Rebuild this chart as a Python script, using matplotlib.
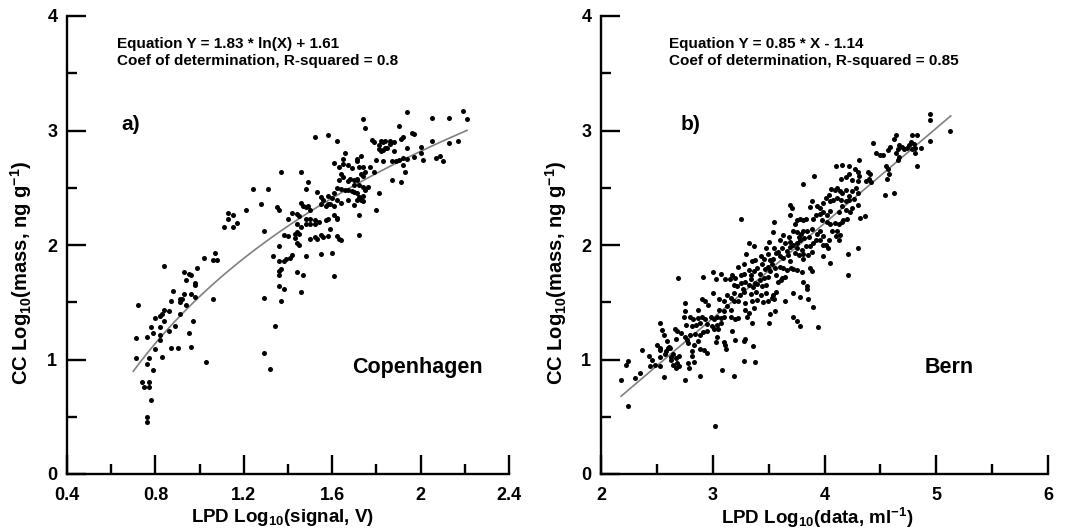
import matplotlib
matplotlib.use("Agg")
import matplotlib.pyplot as plt
import numpy as np

plt.rcParams['font.family'] = ['Liberation Sans', 'DejaVu Sans']
plt.rcParams['font.weight'] = 'bold'
plt.rcParams['mathtext.fontset'] = 'custom'
plt.rcParams['mathtext.rm'] = 'Liberation Sans:bold'
plt.rcParams['mathtext.it'] = 'Liberation Sans:bold'
plt.rcParams['mathtext.bf'] = 'Liberation Sans:bold'
plt.rcParams['mathtext.default'] = 'rm'

# ---------------- Copenhagen (panel a) ----------------
cph_x = [0.72, 0.71, 0.71, 0.76, 0.78, 0.80, 0.82, 0.79, 0.82, 0.82, 0.80, 0.77, 0.76, 0.79, 0.74, 0.77,
         0.75, 0.77, 0.78, 0.76, 0.76, 0.83, 0.83, 0.82, 0.84, 0.84, 0.86, 0.86, 0.89, 0.87, 0.88, 0.91,
         0.91, 0.92, 0.93, 0.94, 0.91, 0.87, 0.90, 0.84, 0.93, 0.95, 0.94, 0.96, 0.98, 0.98, 0.99, 0.96,
         0.98, 0.95, 0.97, 0.96, 1.02, 1.07, 1.06, 1.08, 1.06, 1.03, 1.11, 1.13, 1.13, 1.15, 1.15, 1.17,
         1.94, 2.05, 2.13, 2.19, 2.21, 1.74, 1.75, 1.90, 1.96, 1.97, 1.91, 1.92, 1.78, 1.79, 1.81, 1.82,
         1.83, 1.84, 1.86, 1.86, 1.88, 1.81, 1.82, 1.83, 1.84, 1.85, 1.88, 1.52, 1.58, 1.62, 1.94, 2.00,
         2.05, 2.17, 2.13, 1.66, 1.65, 1.71, 1.73, 1.71, 1.61, 1.63, 1.65, 1.67, 1.69, 1.72, 1.74, 1.77,
         1.79, 1.75, 1.73, 1.74, 1.71, 1.71, 1.80, 1.83, 1.87, 1.89, 1.90, 1.92, 1.94, 1.97, 2.00, 2.01,
         2.07, 2.09, 2.10, 1.92, 1.93, 1.87, 1.91, 1.37, 1.46, 1.49, 1.24, 1.31, 1.64, 1.65, 1.63, 1.67,
         1.68, 1.70, 1.70, 1.72, 1.74, 1.76, 1.75, 1.48, 1.53, 1.55, 1.58, 1.60, 1.61, 1.62, 1.64, 1.66,
         1.67, 1.69, 1.70, 1.71, 1.72, 1.71, 1.73, 1.74, 1.74, 1.70, 1.72, 1.80, 1.81, 1.21, 1.28, 1.35,
         1.36, 1.46, 1.47, 1.48, 1.50, 1.49, 1.55, 1.56, 1.58, 1.57, 1.59, 1.61, 1.62, 1.64, 1.67, 1.42,
         1.44, 1.40, 1.45, 1.48, 1.50, 1.52, 1.54, 1.57, 1.58, 1.61, 1.62, 1.62, 1.44, 1.46, 1.48, 1.50,
         1.52, 1.29, 1.38, 1.40, 1.43, 1.44, 1.45, 1.43, 1.44, 1.45, 1.50, 1.52, 1.53, 1.55, 1.56, 1.58,
         1.59, 1.62, 1.63, 1.64, 1.72, 1.36, 1.33, 1.36, 1.38, 1.39, 1.41, 1.42, 1.48, 1.55, 1.60, 1.36,
         1.37, 1.36, 1.44, 1.47, 1.61, 1.36, 1.38, 1.46, 1.37, 1.29, 1.34, 1.29, 1.32]
cph_y = [1.48, 1.19, 1.01, 1.20, 1.28, 1.36, 1.28, 1.23, 1.21, 1.17, 1.09, 1.01, 0.96, 0.91, 0.80, 0.80,
         0.76, 0.76, 0.65, 0.50, 0.45, 1.02, 1.40, 1.38, 1.34, 1.43, 1.42, 1.25, 1.29, 1.51, 1.60, 1.53,
         1.50, 1.53, 1.57, 1.48, 1.40, 1.10, 1.10, 1.82, 1.76, 1.75, 1.69, 1.74, 1.67, 1.65, 1.80, 1.57,
         1.55, 1.23, 1.34, 1.11, 1.89, 1.93, 1.87, 1.87, 1.53, 0.98, 2.16, 2.28, 2.23, 2.26, 2.16, 2.19,
         3.16, 3.11, 3.11, 3.17, 3.10, 3.10, 3.02, 3.04, 2.98, 2.97, 2.93, 2.94, 2.92, 2.90, 2.87, 2.91,
         2.90, 2.91, 2.91, 2.88, 2.90, 2.84, 2.82, 2.83, 2.85, 2.85, 2.82, 2.94, 2.96, 2.91, 2.85, 2.86,
         2.91, 2.91, 2.89, 2.80, 2.75, 2.75, 2.78, 2.73, 2.72, 2.68, 2.71, 2.70, 2.67, 2.68, 2.68, 2.68,
         2.64, 2.64, 2.62, 2.60, 2.57, 2.58, 2.74, 2.73, 2.73, 2.73, 2.74, 2.76, 2.75, 2.77, 2.80, 2.74,
         2.76, 2.78, 2.73, 2.70, 2.64, 2.57, 2.55, 2.64, 2.64, 2.55, 2.49, 2.49, 2.62, 2.59, 2.57, 2.56,
         2.58, 2.57, 2.52, 2.52, 2.51, 2.51, 2.48, 2.49, 2.46, 2.42, 2.43, 2.41, 2.45, 2.50, 2.49, 2.48,
         2.48, 2.47, 2.46, 2.45, 2.42, 2.39, 2.39, 2.38, 2.43, 2.35, 2.26, 2.31, 2.45, 2.31, 2.36, 2.33,
         2.31, 2.37, 2.34, 2.33, 2.31, 2.34, 2.36, 2.39, 2.36, 2.34, 2.36, 2.34, 2.39, 2.37, 2.39, 2.28,
         2.27, 2.23, 2.25, 2.23, 2.23, 2.22, 2.20, 2.22, 2.23, 2.26, 2.24, 2.23, 2.18, 2.16, 2.18, 2.18,
         2.18, 2.12, 2.09, 2.08, 2.10, 2.11, 2.10, 2.06, 2.02, 2.00, 2.05, 2.07, 2.05, 2.09, 2.07, 2.08,
         2.14, 2.08, 2.05, 2.04, 2.09, 1.99, 1.90, 1.86, 1.86, 1.88, 1.89, 1.91, 1.90, 1.92, 1.93, 1.77,
         1.79, 1.74, 1.76, 1.74, 1.73, 1.64, 1.62, 1.59, 1.51, 1.54, 1.29, 1.06, 0.92]

# ---------------- Bern (panel b) ----------------
bern_x = [2.69, 2.53, 2.55, 2.56, 2.59, 2.66, 2.68, 2.67, 2.50, 2.53, 2.58, 2.60, 2.62, 2.64, 2.67, 2.70,
          2.37, 2.43, 2.46, 2.48, 2.44, 2.53, 2.63, 2.64, 2.67, 2.70, 2.24, 2.22, 2.18, 2.30, 2.35, 2.56,
          2.24, 2.61, 2.53, 2.57, 2.53, 2.63, 2.68,
          3.25, 3.32, 3.37, 3.48, 3.50, 3.30, 3.35, 3.38, 3.43, 3.46, 3.49, 3.51, 3.23, 3.28, 3.25, 3.28,
          3.32, 3.34, 3.37, 3.40, 3.42, 3.44, 3.47, 3.49, 3.51, 3.00, 3.07, 3.17, 2.91, 3.03, 3.11, 3.15,
          3.20, 3.25, 3.29, 3.34, 3.38, 3.42, 3.46, 3.49, 3.19, 3.22, 3.27, 3.32, 3.36, 3.40, 3.44, 3.48,
          3.00, 3.13, 3.19, 3.24, 3.28, 3.34, 3.39, 3.43, 3.48, 2.90, 2.93, 2.96, 3.06, 3.10, 3.13, 3.16,
          3.19, 3.23, 3.29, 3.35, 3.40, 3.45, 3.49, 2.75, 2.75, 2.87, 3.06, 3.10, 3.16, 3.29, 3.32, 3.37,
          2.74, 2.80, 2.82, 2.87, 2.90, 2.93, 2.98, 3.01, 3.04, 3.07, 3.10, 3.16, 3.20, 3.23, 3.31, 3.35,
          3.50, 2.76, 2.81, 2.85, 2.89, 2.95, 2.99, 3.04, 3.07, 2.72, 2.75, 2.77, 2.80, 2.84, 2.89, 2.91,
          2.95, 3.01, 3.05, 3.17, 3.04, 3.03, 3.10, 3.11, 3.12, 3.20, 3.28, 3.29, 3.36, 2.78, 2.83, 2.87,
          2.81, 2.81, 2.89, 2.92, 2.95, 2.78, 2.79, 2.83, 2.75, 2.89, 3.08, 3.19, 3.28, 3.38, 3.02,
          4.31, 4.10, 4.16, 4.22, 4.27, 4.30, 4.15, 4.19, 4.22, 4.25, 4.30, 4.31, 3.91, 3.81, 4.06, 4.09,
          4.11, 4.14, 4.16, 4.19, 4.22, 4.25, 4.28, 4.30, 4.01, 4.04, 3.99, 4.05, 4.08, 4.11, 4.15, 4.19,
          4.22, 4.26, 3.89, 3.87, 3.69, 3.71, 3.93, 3.96, 3.99, 4.02, 4.05, 4.13, 4.16, 4.19, 4.23, 4.25,
          4.30, 3.55, 3.69, 3.74, 3.75, 3.78, 3.81, 3.83, 3.90, 3.92, 3.96, 3.98, 4.02, 4.05, 4.09, 4.13,
          4.16, 4.17, 4.20, 3.63, 3.68, 3.72, 3.75, 3.77, 3.79, 3.81, 3.84, 3.89, 3.93, 3.96, 3.99, 3.54,
          3.60, 3.65, 3.69, 3.72, 3.75, 3.78, 3.82, 3.86, 4.07, 4.11, 4.14, 4.10, 3.55, 3.58, 3.62, 3.66,
          3.69, 3.75, 3.80, 3.83, 3.87, 3.90, 3.92, 3.96, 3.99, 4.04, 4.01, 4.03, 4.13, 3.54, 3.57, 3.60,
          3.63, 3.67, 3.69, 3.74, 3.77, 3.81, 3.81, 3.85, 3.89, 3.99, 4.05, 4.21, 4.30, 3.53, 3.56, 3.60,
          3.63, 3.66, 3.70, 3.72, 3.75, 3.87, 3.89, 3.80, 3.57, 3.62, 3.65, 3.58, 3.61, 4.21, 3.81, 3.84,
          3.84, 3.54, 3.57, 3.53, 3.55, 3.72, 3.78, 3.85, 3.65, 3.90, 3.51, 3.56, 3.72, 3.75, 3.78, 3.94,
          4.94, 4.94, 5.12, 4.64, 4.62, 4.78, 4.83, 4.94, 4.43, 4.59, 4.57, 4.67, 4.69, 4.71, 4.66, 4.74,
          4.76, 4.77, 4.78, 4.80, 4.81, 4.86, 4.46, 4.50, 4.52, 4.64, 4.67, 4.66, 4.81, 4.55, 4.57, 4.83,
          4.39, 4.41, 4.37, 4.40, 4.42, 4.58, 4.56, 4.54, 4.62, 4.32, 4.36]
bern_y = [1.71, 1.32, 1.26, 1.21, 1.16, 1.27, 1.25, 1.18, 1.13, 1.08, 1.07, 1.10, 1.10, 1.05, 1.01, 1.03,
          1.08, 1.03, 1.00, 0.95, 0.94, 0.94, 1.00, 0.95, 0.93, 0.94, 0.99, 0.95, 0.82, 0.84, 0.88, 0.85,
          0.59, 1.11, 1.10, 1.05, 1.02, 1.02, 0.97,
          2.23, 2.02, 1.99, 1.97, 2.03, 1.92, 1.86, 1.87, 1.90, 1.88, 1.92, 1.87, 1.81, 1.83, 1.74, 1.75,
          1.78, 1.74, 1.77, 1.80, 1.75, 1.83, 1.79, 1.81, 1.77, 1.76, 1.75, 1.74, 1.72, 1.70, 1.70, 1.70,
          1.71, 1.67, 1.68, 1.70, 1.67, 1.69, 1.71, 1.72, 1.65, 1.64, 1.62, 1.65, 1.63, 1.66, 1.64, 1.65,
          1.58, 1.56, 1.58, 1.56, 1.59, 1.57, 1.59, 1.56, 1.58, 1.53, 1.51, 1.48, 1.53, 1.51, 1.47, 1.54,
          1.51, 1.51, 1.49, 1.51, 1.52, 1.50, 1.51, 1.49, 1.42, 1.43, 1.43, 1.42, 1.43, 1.43, 1.41, 1.45,
          1.37, 1.37, 1.35, 1.36, 1.37, 1.35, 1.37, 1.35, 1.37, 1.36, 1.37, 1.37, 1.35, 1.36, 1.37, 1.32,
          1.32, 1.30, 1.29, 1.30, 1.32, 1.31, 1.29, 1.30, 1.32, 1.23, 1.20, 1.17, 1.21, 1.22, 1.21, 1.24,
          1.25, 1.27, 1.27, 1.25, 1.20, 1.15, 1.15, 1.13, 1.09, 1.17, 1.16, 1.18, 1.12, 1.14, 1.13, 1.16,
          1.07, 1.03, 1.09, 1.08, 1.06, 0.97, 0.93, 0.98, 0.82, 0.86, 0.91, 0.86, 0.99, 0.98, 0.42,
          2.74, 2.69, 2.70, 2.69, 2.66, 2.64, 2.58, 2.59, 2.62, 2.57, 2.56, 2.60, 2.60, 2.53, 2.49, 2.48,
          2.50, 2.47, 2.45, 2.48, 2.43, 2.47, 2.50, 2.45, 2.41, 2.44, 2.37, 2.38, 2.39, 2.41, 2.39, 2.38,
          2.39, 2.40, 2.38, 2.33, 2.35, 2.32, 2.34, 2.32, 2.29, 2.26, 2.30, 2.29, 2.34, 2.31, 2.29, 2.32,
          2.35, 2.20, 2.26, 2.18, 2.22, 2.23, 2.22, 2.23, 2.23, 2.26, 2.27, 2.22, 2.20, 2.18, 2.19, 2.18,
          2.20, 2.22, 2.23, 2.09, 2.07, 2.12, 2.11, 2.07, 2.10, 2.12, 2.12, 2.14, 2.10, 2.12, 2.08, 2.11,
          2.04, 2.02, 2.03, 2.00, 2.02, 2.04, 2.06, 2.07, 2.12, 2.12, 2.09, 2.08, 1.97, 1.94, 1.97, 1.95,
          1.98, 1.97, 1.96, 1.99, 1.99, 2.02, 2.04, 2.04, 2.00, 2.04, 2.00, 1.97, 2.04, 1.88, 1.93, 1.90,
          1.89, 1.91, 1.86, 1.93, 1.91, 1.92, 1.88, 1.91, 1.94, 1.90, 1.84, 1.92, 1.97, 1.83, 1.80, 1.81,
          1.80, 1.78, 1.80, 1.79, 1.78, 1.80, 1.77, 1.76, 1.74, 1.71, 1.72, 1.68, 1.69, 1.74, 1.68, 1.64,
          1.62, 1.56, 1.59, 1.54, 1.53, 1.58, 1.55, 1.53, 1.51, 1.46, 1.40, 1.42, 1.37, 1.34, 1.29, 1.28,
          3.14, 3.09, 3.00, 2.96, 2.93, 2.96, 2.96, 2.91, 2.89, 2.86, 2.83, 2.87, 2.86, 2.84, 2.84, 2.85,
          2.87, 2.90, 2.84, 2.88, 2.85, 2.85, 2.80, 2.79, 2.79, 2.80, 2.77, 2.74, 2.80, 2.69, 2.66, 2.69,
          2.64, 2.62, 2.56, 2.58, 2.55, 2.62, 2.58, 2.44, 2.45, 2.24, 2.25]

# fitted curves as drawn in the picture
cph_fit_a, cph_fit_b, cph_fit_range = 1.83, 1.55, (0.70, 2.21)
bern_fit_a, bern_fit_b, bern_fit_range = 0.83, -1.13, (2.18, 5.13)

cph_eq = ["Equation Y = 1.83 * ln(X) + 1.61", "Coef of determination, R-squared = 0.8"]
bern_eq = ["Equation Y = 0.85 * X - 1.14", "Coef of determination, R-squared = 0.85"]

xlab_a = "LPD Log$_{10}$(signal, V)"
xlab_b = "LPD Log$_{10}$(data, ml$^{-1}$)"
ylab = "CC Log$_{10}$(mass, ng g$^{-1}$)"

a_xticks = [0.4, 0.8, 1.2, 1.6, 2.0, 2.4]
a_xticklabels = ["0.4", "0.8", "1.2", "1.6", "2", "2.4"]
b_xticks = [2, 3, 4, 5, 6]
yticks = [0, 1, 2, 3, 4]

W, H = 1065, 532
fig = plt.figure(figsize=(W / 100, H / 100), dpi=100)

def px_axes(x0, x1, y0, y1):
    return fig.add_axes([x0 / W, 1 - y1 / H, (x1 - x0) / W, (y1 - y0) / H])

axA = px_axes(67, 509, 16, 474)
axB = px_axes(601, 1048, 16, 474)

def style(ax, xlim, xticks, xticklabels, xminor):
    ax.set_xlim(*xlim)
    ax.set_ylim(0, 4)
    for s in ['top', 'right']:
        ax.spines[s].set_visible(False)
    for s in ['left', 'bottom']:
        ax.spines[s].set_linewidth(1.7)
    ax.set_xticks(xticks)
    ax.set_xticklabels(xticklabels)
    ax.set_xticks(xminor, minor=True)
    ax.set_yticks(yticks)
    ax.set_yticklabels([str(v) for v in yticks])
    ax.set_yticks([0.5, 1.5, 2.5, 3.5], minor=True)
    ax.tick_params(which='major', direction='in', length=13.5, width=1.7,
                   labelsize=13, color='black')
    ax.tick_params(which='minor', direction='in', length=7, width=1.7, color='black')
    ax.tick_params(axis='x', which='major', pad=9)
    ax.tick_params(axis='y', which='major', pad=7)
    for lab in ax.get_xticklabels() + ax.get_yticklabels():
        lab.set_fontweight('bold')

style(axA, (0.4, 2.4), a_xticks, a_xticklabels, [0.6, 1.0, 1.4, 1.8, 2.2])
style(axB, (2, 6), b_xticks, [str(v) for v in b_xticks], [2.5, 3.5, 4.5, 5.5])

axA.scatter(cph_x, cph_y, s=13, c='black', linewidths=0, zorder=3)
axB.scatter(bern_x, bern_y, s=13, c='black', linewidths=0, zorder=3)

xa = np.linspace(cph_fit_range[0], cph_fit_range[1], 200)
axA.plot(xa, cph_fit_a * np.log(xa) + cph_fit_b, color='#808080', lw=1.2, zorder=2)
xb = np.linspace(bern_fit_range[0], bern_fit_range[1], 50)
axB.plot(xb, bern_fit_a * xb + bern_fit_b, color='#808080', lw=1.2, zorder=2)

# equations
axA.text(0.626, 3.72, cph_eq[0], fontsize=11, fontweight='bold', va='baseline')
axA.text(0.626, 3.57, cph_eq[1], fontsize=11, fontweight='bold', va='baseline')
axB.text(2.61, 3.72, bern_eq[0], fontsize=11, fontweight='bold', va='baseline')
axB.text(2.61, 3.57, bern_eq[1], fontsize=11, fontweight='bold', va='baseline')

axA.text(0.647, 3.0, "a)", fontsize=15, fontweight='bold', va='baseline')
axB.text(2.71, 3.0, "b)", fontsize=15, fontweight='bold', va='baseline')
axA.text(1.69, 0.88, "Copenhagen", fontsize=15.5, fontweight='bold', va='baseline')
axB.text(4.90, 0.88, "Bern", fontsize=15.5, fontweight='bold', va='baseline')

for ax, lab, xc in [(axA, xlab_a, 0.488), (axB, xlab_b, 0.483)]:
    ax.set_xlabel(lab, fontsize=13.5, fontweight='bold')
    ax.xaxis.set_label_coords(xc, -0.095)
    ax.xaxis.label.set_verticalalignment('center')

axA.set_ylabel(ylab, fontsize=14.5, fontweight='bold')
axA.yaxis.set_label_coords(-0.104, 0.44)
axA.yaxis.label.set_verticalalignment('center')
axB.set_ylabel(ylab, fontsize=14.5, fontweight='bold')
axB.yaxis.set_label_coords(-0.10, 0.44)
axB.yaxis.label.set_verticalalignment('center')

fig.savefig("out.png", dpi=100)
